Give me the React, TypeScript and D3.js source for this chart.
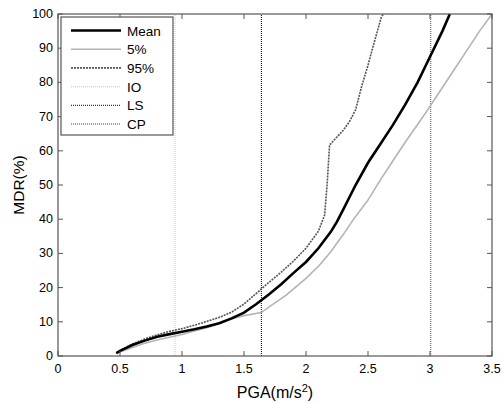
import * as d3 from 'd3'

const pgaMean = [0.47, 0.5, 0.6, 0.7, 0.8, 0.9, 1.0, 1.1, 1.2, 1.3, 1.4, 1.5, 1.6, 1.7, 1.8, 1.9, 2.0, 2.1, 2.2, 2.25, 2.3, 2.4, 2.5, 2.6, 2.7, 2.8, 2.9, 3.0, 3.1, 3.16]
const mdrMean = [0.8, 1.5, 3.2, 4.5, 5.6, 6.4, 7.1, 7.8, 8.6, 9.6, 11, 12.7, 15.2, 18, 21, 24.3, 27.5, 31.5, 36.3, 39.3, 42.8, 50, 56.5, 62, 67.5, 73.5, 80, 87.5, 95, 100]

const pga5 = [0.47, 0.6, 0.7, 0.8, 0.9, 1.0, 1.1, 1.2, 1.3, 1.4, 1.5, 1.64, 1.7, 1.84, 2.0, 2.11, 2.2, 2.3, 2.38, 2.5, 2.6, 2.7, 2.8, 2.9, 3.0, 3.1, 3.2, 3.3, 3.4, 3.5]
const mdr5 = [0.8, 2.5, 3.7, 4.7, 5.5, 6.3, 7.3, 8.3, 9.5, 10.8, 11.8, 12.7, 14.3, 17.8, 22.7, 26.6, 30.5, 35.5, 39.8, 45.6, 51.5, 57, 62.5, 67.7, 73, 78.5, 84, 89.5, 95, 100]

const pga95 = [0.47, 0.6, 0.7, 0.8, 0.9, 1.0, 1.1, 1.2, 1.3, 1.4, 1.5, 1.64, 1.7, 1.8, 1.9, 2.0, 2.1, 2.15, 2.17, 2.19, 2.3, 2.35, 2.4, 2.45, 2.5, 2.54, 2.61, 2.63]
const mdr95 = [1, 3.5, 5, 6.2, 7.2, 8, 9, 10.1, 11.3, 12.8, 15.2, 19.6, 21.5, 24.5, 27.8, 31.5, 36.5, 41.2, 50, 61.7, 66, 68.5, 72, 79, 85, 90.4, 99.4, 100]

const limitNames = ['IO', 'LS', 'CP']
const limitPga = [0.944, 1.64, 3.005]

const xTickValues = [0, 0.5, 1, 1.5, 2, 2.5, 3, 3.5]
const yTickValues = [0, 10, 20, 30, 40, 50, 60, 70, 80, 90, 100]

const width = 502
const height = 403
const m = { left: 58, right: 10, top: 14, bottom: 47 }

const styles = {
  Mean: { stroke: '#000', width: 2.6, dash: undefined },
  '5%': { stroke: '#b4b4b4', width: 1.6, dash: undefined },
  '95%': { stroke: '#555', width: 1.6, dash: '2,1' },
  IO: { stroke: '#d2d2d2', width: 1.2, dash: '1,1' },
  LS: { stroke: '#000', width: 1, dash: '1,1' },
  CP: { stroke: '#808080', width: 1.4, dash: '1,1' },
}

export default function App() {
  const x = d3.scaleLinear().domain([0, 3.5]).range([m.left, width - m.right])
  const y = d3.scaleLinear().domain([0, 100]).range([height - m.bottom, m.top])
  const line = d3
    .line<[number, number]>()
    .x(d => x(d[0]))
    .y(d => y(d[1]))

  const series = [
    { name: 'Mean', pts: pgaMean.map((p, i) => [p, mdrMean[i]] as [number, number]) },
    { name: '5%', pts: pga5.map((p, i) => [p, mdr5[i]] as [number, number]) },
    { name: '95%', pts: pga95.map((p, i) => [p, mdr95[i]] as [number, number]) },
  ]
  const legendNames = ['Mean', '5%', '95%', 'IO', 'LS', 'CP']
  const [x0, x1] = x.range()
  const [y0, y1] = y.range()

  return (
    <svg
      width={width}
      height={height}
      style={{ position: 'absolute', left: 0, top: 0, background: '#fff' }}
      fontFamily="Liberation Sans, Arial, sans-serif"
    >
      {limitNames.map((n, i) => (
        <line
          key={n}
          x1={x(limitPga[i])}
          x2={x(limitPga[i])}
          y1={y0}
          y2={y1}
          stroke={styles[n].stroke}
          strokeWidth={styles[n].width}
          strokeDasharray={styles[n].dash}
        />
      ))}
      {series
        .slice()
        .reverse()
        .map(s => (
          <path
            key={s.name}
            d={line(s.pts) ?? ''}
            fill="none"
            stroke={styles[s.name].stroke}
            strokeWidth={styles[s.name].width}
            strokeDasharray={styles[s.name].dash}
          />
        ))}
      <rect x={x0} y={y1} width={x1 - x0} height={y0 - y1} fill="none" stroke="#555" strokeWidth={1.2} />
      {xTickValues.map(v => (
        <g key={v}>
          <line x1={x(v)} x2={x(v)} y1={y0} y2={y0 - 5} stroke="#555" />
          <line x1={x(v)} x2={x(v)} y1={y1} y2={y1 + 5} stroke="#555" />
          <text x={x(v)} y={y0 + 17} fontSize={12.5} textAnchor="middle" fill="#000">
            {v}
          </text>
        </g>
      ))}
      {yTickValues.map(v => (
        <g key={v}>
          <line x1={x0} x2={x0 + 5} y1={y(v)} y2={y(v)} stroke="#555" />
          <line x1={x1} x2={x1 - 5} y1={y(v)} y2={y(v)} stroke="#555" />
          <text x={x0 - 5} y={y(v) + 4} fontSize={12.5} textAnchor="end" fill="#000">
            {v}
          </text>
        </g>
      ))}
      <text x={x((0 + 3.5) / 2)} y={398} fontSize={16} textAnchor="middle">
        PGA(m/s<tspan dy={-6} fontSize={11}>2</tspan>
        <tspan dy={6}>)</tspan>
      </text>
      <text transform={`translate(24,${y(50)}) rotate(-90)`} fontSize={15.5} textAnchor="middle">
        MDR(%)
      </text>
      <g>
        <rect x={61} y={17} width={112} height={118} fill="#fff" stroke="#555" strokeWidth={1.2} />
        {legendNames.map((n, i) => (
          <g key={n} transform={`translate(0,${30.5 + i * 18.7})`}>
            <line
              x1={71}
              x2={121}
              y1={0}
              y2={0}
              stroke={styles[n].stroke}
              strokeWidth={n === 'Mean' ? 2.6 : styles[n].width}
              strokeDasharray={styles[n].dash}
            />
            <text x={127} y={5} fontSize={13.5} fill="#000">
              {n}
            </text>
          </g>
        ))}
      </g>
    </svg>
  )
}
